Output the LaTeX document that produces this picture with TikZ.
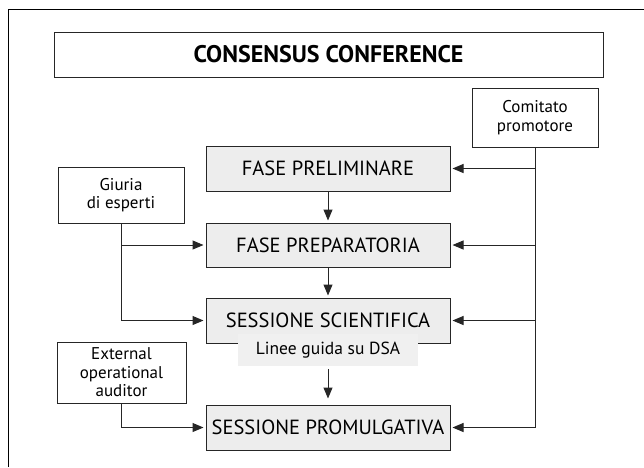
\documentclass[tikz,border=0pt]{standalone}
\usepackage{fontspec}
\setmainfont{PT Sans}
\usetikzlibrary{arrows.meta,positioning}

\tikzset{
    phase/.style={draw=black!85, line width=1pt, fill=black!7,
        minimum width=244pt, minimum height=45pt, inner sep=0pt,
        font=\fontsize{20.5}{22}\selectfont},
    actor/.style={draw=black!85, line width=1pt, fill=white, align=center,
        inner sep=0pt, font=\fontsize{17}{18.5}\selectfont},
    link/.style={line width=1pt, draw=black!85,
        -{Triangle[length=11pt,width=9pt]}, shorten >=2pt},
}

\begin{document}
\begin{tikzpicture}[x=1pt,y=-1pt]
    \useasboundingbox (0,0) rectangle (644,467);
    % frame
    \draw[line width=1pt] (8,467) -- (8,9.5) -- (644,9.5);

    \node[actor, minimum width=549pt, minimum height=45pt,
          font=\fontsize{24}{26}\selectfont\bfseries] (title) at (328.5,54.5) {CONSENSUS CONFERENCE};

    \node[phase] (prelim) at (328,168.5) {FASE PRELIMINARE};
    \node[phase, minimum height=44pt] (prep) at (328,245) {FASE PREPARATORIA};
    \node[phase] (sci) at (328,320.5) {SESSIONE SCIENTIFICA};
    \node[phase] (prom) at (328,427.5) {SESSIONE PROMULGATIVA};
    \node[fill=black!6, minimum width=180pt, minimum height=32pt, inner sep=0pt,
          font=\fontsize{17.5}{19}\selectfont] (linee) at (328,350) {Linee guida su DSA};

    \node[actor, minimum width=126pt, minimum height=59pt] (comitato) at (535,117.5) {Comitato\\promotore};
    \node[actor, minimum width=126pt, minimum height=56pt] (giuria) at (121,195) {Giuria\\di esperti};
    \node[actor, minimum width=129pt, minimum height=61pt] (external) at (121.5,372.5) {External\\operational\\auditor};

    % comitato promotore
    \draw[link] (comitato.south) |- (prom.east);
    \foreach \n in {prelim,prep,sci}
        \draw[link] (comitato.south |- \n.east) -- (\n.east);

    % giuria e auditor
    \draw[link] (giuria.south) |- (sci.west);
    \draw[link] (giuria.south |- prep.west) -- (prep.west);
    \draw[link] (external.south) |- (prom.west);

    % sequenza
    \draw[link] (prelim.south) -- (prep.north);
    \draw[link] (prep.south) -- (sci.north);
    \draw[link, shorten <=3pt, shorten >=6pt] (linee.south) -- (prom.north);
\end{tikzpicture}
\end{document}
